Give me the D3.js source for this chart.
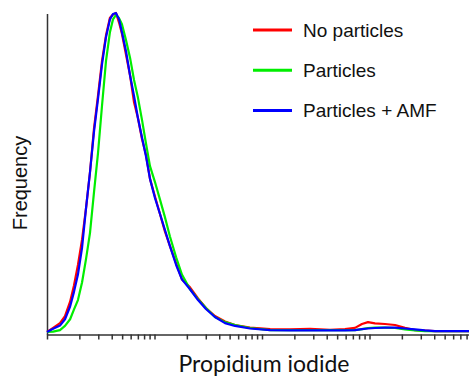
<!DOCTYPE html>
<html>
<head>
<meta charset="utf-8">
<script src="https://cdn.jsdelivr.net/npm/d3@7"></script>
<style>
  body { margin: 0; background: #fff; }
  svg { display: block; }
</style>
</head>
<body>
<div id="chart"></div>
<script>
// PI intensity channels (log axis)
const intensity = [1, 1.14, 1.32, 1.47, 1.64, 1.78, 1.94, 2.12, 2.31, 2.51, 2.74, 2.98, 3.25, 3.54,
  3.85, 4.11, 4.38, 4.68, 4.98, 5.43, 5.92, 6.45, 7.02, 7.65, 8.34, 9.08, 10.1, 11.25, 12.5,
  13.9, 15.9, 18, 21.4, 25.4, 30.1, 36.5, 45.3, 56.1, 77.3, 119, 182, 280, 429, 592, 733,
  851, 968, 1125, 1393, 1727, 2138, 2649, 3282, 4066, 5607, 8430]

// counts, normalised to peak = 100
const noParticles = [0, 1.3, 2.8, 5, 9.5, 14.5, 21, 29, 39, 50, 64, 74, 85, 93, 98.5, 99.5, 100,
  97, 93.5, 87, 80.5, 72, 67, 60.5, 55.5, 48, 42.5, 37, 31.5, 27, 21.5, 16.5, 14, 10.5, 7.5,
  5, 3.3, 2.2, 1.4, 0.9, 0.8, 1, 0.7, 0.9, 1.3, 2.5, 3.1, 2.7, 2.5, 2.2, 1.3, 0.6, 0.4, 0.3, 0.3, 0.3]
const particles = [0, 0.1, 0.6, 1.9, 4, 7, 10, 15.6, 23, 31, 44, 56, 71, 85, 94, 98, 99.4,
  98.4, 96.5, 91.5, 86, 79, 73.4, 66.5, 59, 52, 47, 41.5, 36, 30, 23.4, 18, 13.4, 10.3, 7.5,
  4.7, 3.1, 2.2, 1.25, 0.6, 0.6, 0.6, 0.6, 0.6, 0.6, 0.9, 1.25, 1.4, 1.4, 1.25, 0.8, 0.5, 0.3, 0.3, 0.3, 0.3]
const particlesAMF = [0, 1, 2, 4, 8, 12.5, 18, 26.5, 39, 50, 63, 73, 84, 92.5, 98, 99.7, 100,
  98, 94, 88, 80.5, 74, 67, 61, 55, 48, 42, 37, 32, 27, 21, 16.5, 13.4, 10, 7.2,
  4.7, 2.8, 1.9, 1.1, 0.6, 0.5, 0.5, 0.5, 0.5, 0.6, 0.9, 1.1, 1.25, 1.4, 1.4, 1.1, 0.8, 0.5, 0.3, 0.3, 0.3]

const seriesNames = ["No particles", "Particles", "Particles + AMF"]
const seriesColors = ["#ff0000", "#00ee00", "#0000ff"]
const seriesValues = [noParticles, particles, particlesAMF]

const width = 469
const height = 377

const svg = d3.select("#chart")
  .append("svg")
  .attr("width", width)
  .attr("height", height)

const x = d3.scaleLog().domain([1, 10000]).range([47, 477])
const y = d3.scaleLinear().domain([0, 100]).range([332, 13])

// x axis, log ticks, no labels
svg.append("g")
  .attr("transform", "translate(0,334.5)")
  .call(d3.axisBottom(x).tickSize(5).tickSizeOuter(0).tickFormat(""))
  .call(g => g.select(".domain").attr("stroke", "#333").attr("stroke-width", 1.5))
  .call(g => g.selectAll(".tick line").attr("stroke", "#333").attr("stroke-width", 1.5))

// y axis line only
svg.append("line")
  .attr("x1", 47.5).attr("x2", 47.5)
  .attr("y1", 14).attr("y2", 335)
  .attr("stroke", "#333")
  .attr("stroke-width", 1.5)

const line = d3.line()
  .x((d, i) => x(intensity[i]))
  .y(d => y(d))

svg.append("g")
  .selectAll("path")
  .data(seriesValues)
  .join("path")
  .attr("d", d => line(d))
  .attr("fill", "none")
  .attr("stroke", (d, i) => seriesColors[i])
  .attr("stroke-width", 2.2)
  .attr("stroke-linejoin", "round")

// legend
const legend = svg.append("g")
  .selectAll("g")
  .data(seriesNames)
  .join("g")
  .attr("transform", (d, i) => `translate(253,${30 + i * 40.3})`)

legend.append("line")
  .attr("x1", 0).attr("x2", 39)
  .attr("stroke", (d, i) => seriesColors[i])
  .attr("stroke-width", 3)

legend.append("text")
  .attr("x", 50)
  .attr("dy", "0.35em")
  .attr("font-family", "Liberation Sans, Arial, sans-serif")
  .attr("font-size", 19)
  .attr("fill", "#111")
  .text(d => d)

// axis titles
svg.append("text")
  .attr("transform", "translate(27,183) rotate(-90)")
  .attr("text-anchor", "middle")
  .attr("font-family", "Liberation Sans, Arial, sans-serif")
  .attr("font-size", 20)
  .attr("fill", "#111")
  .text("Frequency")

svg.append("text")
  .attr("x", 264)
  .attr("y", 372)
  .attr("text-anchor", "middle")
  .attr("font-family", "Lato, sans-serif")
  .attr("font-size", 23)
  .attr("fill", "#111")
  .text("Propidium iodide")
</script>
</body>
</html>
